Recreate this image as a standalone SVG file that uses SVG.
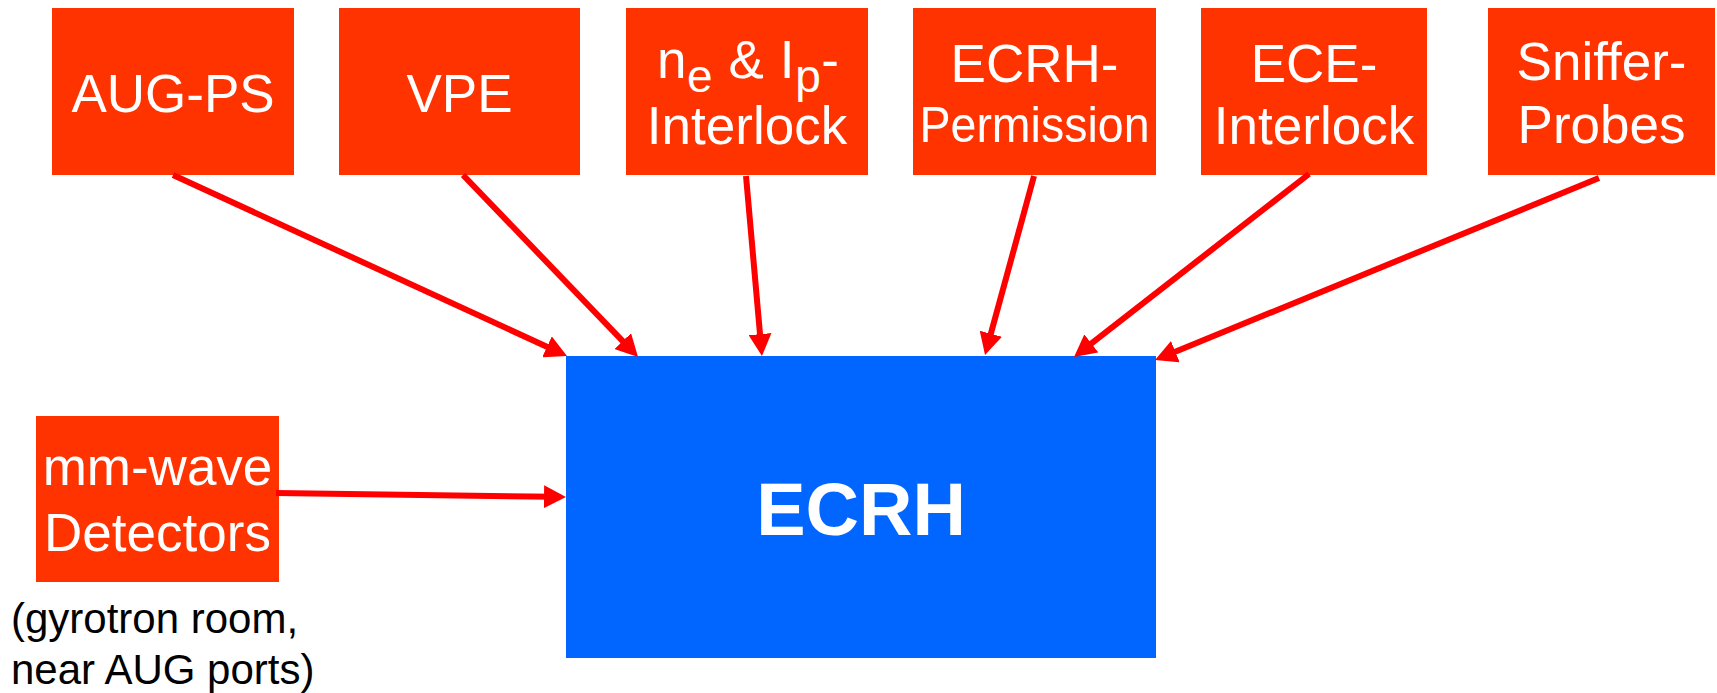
<svg xmlns="http://www.w3.org/2000/svg" width="1717" height="693" viewBox="0 0 1717 693">
<style>
.box{fill:#FF3300}
.main{fill:#0066FF}
.lbl{font-family:"Liberation Sans",Arial,sans-serif;font-size:53px;fill:#FFFFFF;text-anchor:middle}
.sm{font-size:50px}
.sub{font-size:46px}
.big{font-family:"Liberation Sans",Arial,sans-serif;font-size:74px;font-weight:bold;fill:#FFFFFF;text-anchor:middle}
.note{font-family:"Liberation Sans",Arial,sans-serif;font-size:42px;fill:#000000}
.arr{stroke:#FF0000;stroke-width:6;fill:none;marker-end:url(#ah)}
</style>
<defs>
<marker id="ah" markerUnits="userSpaceOnUse" markerWidth="22" markerHeight="23" refX="10" refY="11.5" orient="auto" viewBox="0 0 22 23">
<path d="M0,0 L22,11.5 L0,23 z" fill="#FF0000"/>
</marker>
</defs>
<rect width="1717" height="693" fill="#FFFFFF"/>
<g id="node-augps">
<rect class="box" x="52" y="8" width="242" height="167"/>
<text class="lbl" x="173" y="112">AUG-PS</text>
</g>
<g id="node-vpe">
<rect class="box" x="339" y="8" width="241" height="167"/>
<text class="lbl" x="459.5" y="112">VPE</text>
</g>
<g id="node-interlock">
<rect class="box" x="626" y="8" width="242" height="167"/>
<text class="lbl" x="748" y="78" textLength="182" lengthAdjust="spacing">n<tspan class="sub" dy="14">e</tspan><tspan dy="-14"> &amp; I</tspan><tspan class="sub" dy="14">p</tspan><tspan dy="-14">-</tspan></text>
<text class="lbl" x="747" y="144">Interlock</text>
</g>
<g id="node-permission">
<rect class="box" x="913" y="8" width="243" height="167"/>
<text class="lbl" x="1034.5" y="82">ECRH-</text>
<text class="lbl sm" x="1034.5" y="142" textLength="230" lengthAdjust="spacingAndGlyphs">Permission</text>
</g>
<g id="node-ece">
<rect class="box" x="1201" y="8" width="226" height="167"/>
<text class="lbl" x="1314" y="82">ECE-</text>
<text class="lbl" x="1314" y="144">Interlock</text>
</g>
<g id="node-sniffer">
<rect class="box" x="1488" y="8" width="227" height="167"/>
<text class="lbl" x="1601.5" y="80">Sniffer-</text>
<text class="lbl" x="1601.5" y="143">Probes</text>
</g>
<g id="node-mmwave">
<rect class="box" x="36" y="416" width="243" height="166"/>
<text class="lbl" x="157.5" y="485">mm-wave</text>
<text class="lbl" x="157.5" y="551">Detectors</text>
<text class="note" x="11" y="633">(gyrotron room,</text>
<text class="note" x="11" y="684">near AUG ports)</text>
</g>
<g id="node-ecrh">
<rect class="main" x="566" y="356" width="590" height="302"/>
<text class="big" x="861" y="535">ECRH</text>
</g>
<g id="connectors">
<line class="arr" x1="173" y1="175" x2="556.1" y2="351"/>
<line class="arr" x1="463" y1="175" x2="629.7" y2="348.3"/>
<line class="arr" x1="746" y1="176" x2="760.9" y2="344.1"/>
<line class="arr" x1="1034" y1="176" x2="988.2" y2="343.4"/>
<line class="arr" x1="1309" y1="174" x2="1083.5" y2="349.6"/>
<line class="arr" x1="1599" y1="178" x2="1166.1" y2="355.5"/>
<line class="arr" x1="276" y1="493" x2="554" y2="496.8"/>
</g>
</svg>
